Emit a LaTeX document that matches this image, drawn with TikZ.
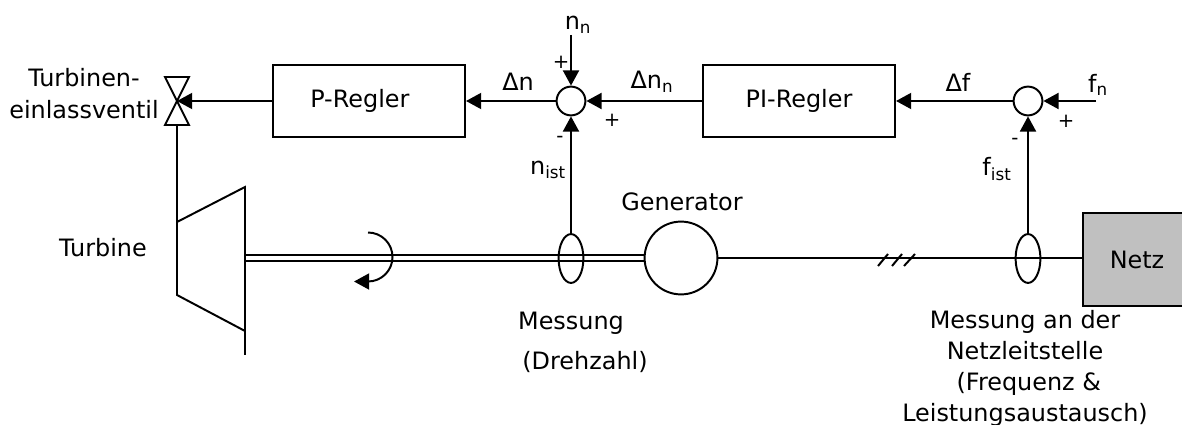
\documentclass[tikz,border=0pt]{standalone}
\usepackage{fontspec}
\setmainfont{DejaVu Sans}
\usetikzlibrary{arrows.meta,shapes.geometric}
\definecolor{netzgray}{HTML}{C0C0C0}
\tikzset{
    line/.style={line width=1.4pt},
    flow/.style={line, -{Triangle[length=0.38cm,width=0.4cm]}},
    lbl/.style={font=\fontsize{17}{23}\selectfont, inner sep=0pt, align=center},
    sign/.style={font=\fontsize{14}{16}\selectfont, inner sep=0pt},
    blockbox/.style={draw, line, minimum width=4.8cm, minimum height=1.8cm, inner sep=0pt},
    sumdot/.style={draw, line, circle, minimum size=0.72cm, inner sep=0pt},
    tapring/.style={draw, line, ellipse, minimum width=0.62cm, minimum height=1.22cm, inner sep=0pt}
}

\begin{document}
\begin{tikzpicture}[x=0.025cm, y=-0.025cm]
    \useasboundingbox (0,0) rectangle (1182,425);

    % Draw the controller blocks and summing points
    \node[blockbox, lbl] (preg) at (369,101) {P-Regler\hspace*{13pt}};
    \node[blockbox, lbl] (pireg) at (799,101) {PI-Regler};
    \node[sumdot] (sumn) at (571,101) {};
    \node[sumdot] (sumf) at (1028,101) {};

    % Draw the measuring rings, generator and grid
    \node[tapring] (tapn) at (571,258.5) {};
    \node[tapring] (tapf) at (1028,258.5) {};
    \node[draw, line, circle, minimum size=1.82cm, inner sep=0pt] (gen) at (681,258) {};
    \node[draw, line, fill=netzgray, lbl, minimum width=2.7cm, minimum height=2.325cm] (netz) at (1137,259.5) {Netz};

    % Define the free ends and the valve points
    \coordinate (valve) at (177,101);
    \coordinate (valvein) at (177,125);
    \coordinate (nnset) at (571,35);
    \coordinate (fnset) at (1096,101);
    \coordinate (turbtop) at (177,222);
    \coordinate (turbbot) at (177,295);
    \coordinate (wheeltop) at (245,187);
    \coordinate (wheelbot) at (245,331);
    \coordinate (wheelend) at (245,355);
    \coordinate (shafta) at (245,255);
    \coordinate (shaftb) at (245,261);

    % Draw the signal path
    \draw[flow] (pireg.west) -- (sumn.east);
    \draw[flow] (sumn.west) -- (preg.east);
    \draw[flow] (preg.west) -- (valve);
    \draw[flow] (sumf.west) -- (pireg.east);
    \draw[flow] (fnset) -- (sumf.east);
    \draw[flow] (nnset) -- (sumn.north);
    \draw[flow] (tapn.north) -- (sumn.south);
    \draw[flow] (tapf.north) -- (sumf.south);

    % Draw the valve
    \draw[line] (valve) -- (165,77) -- (189,77) -- cycle;
    \draw[line] (valve) -- (165,125) -- (189,125) -- cycle;

    % Draw the turbine
    \draw[line] (valvein) -- (turbbot) -- (wheelbot);
    \draw[line] (turbtop) -- (wheeltop) -- (wheelend);

    % Draw the shaft and the line to the grid
    \draw[line] (shafta) -- (shafta -| gen.west);
    \draw[line] (shaftb) -- (shaftb -| gen.west);
    \draw[line] (gen.east) -- (gen.east -| netz.west);
    \draw[line] (878,266) -- (888,254) (892,266) -- (902,254) (904,266) -- (915,254);

    % Draw the direction of rotation
    \coordinate (spin) at (368,232.5);
    \draw[flow] (spin) arc[start angle=90, end angle=-90, radius=0.6125cm] -- ++(-14,0);

    % Draw the labels
    \node[lbl] (lblvalve) at (84,93.5) {Turbinen-\\einlassventil};
    \node[lbl] (lblturb) at (103,248) {Turbine};
    \node[lbl] (lbldn) at (518,82) {Δn};
    \node[lbl] (lbldnn) at (652,82) {Δn\textsubscript{n}};
    \node[lbl] (lblnn) at (578,25) {n\textsubscript{n}};
    \node[lbl] (lblnist) at (548,170) {n\textsubscript{ist}};
    \node[lbl] (lblgen) at (682,202) {Generator};
    \node[lbl] (lbldf) at (958,82) {Δf};
    \node[lbl] (lblfn) at (1098,85) {f\textsubscript{n}};
    \node[lbl] (lblfist) at (997,169) {f\textsubscript{ist}};
    \node[lbl] (lblmess) at (571,323) {Messung};
    \node[lbl] (lbldreh) at (585,362) {(Drehzahl)};
    \node[lbl, font=\fontsize{17}{22}\selectfont] (lblleit) at (1025,368) {Messung an der\\Netzleitstelle\\\ (Frequenz \&\\Leistungsaustausch)};

    % Draw the signs
    \node[sign] (plusa) at (561,62) {+};
    \node[sign] (plusb) at (612,120) {+};
    \node[sign] (plusc) at (1066,121) {+};
    \node[sign] (minusa) at (560,139) {-};
    \node[sign] (minusb) at (1015,141) {-};
\end{tikzpicture}
\end{document}
